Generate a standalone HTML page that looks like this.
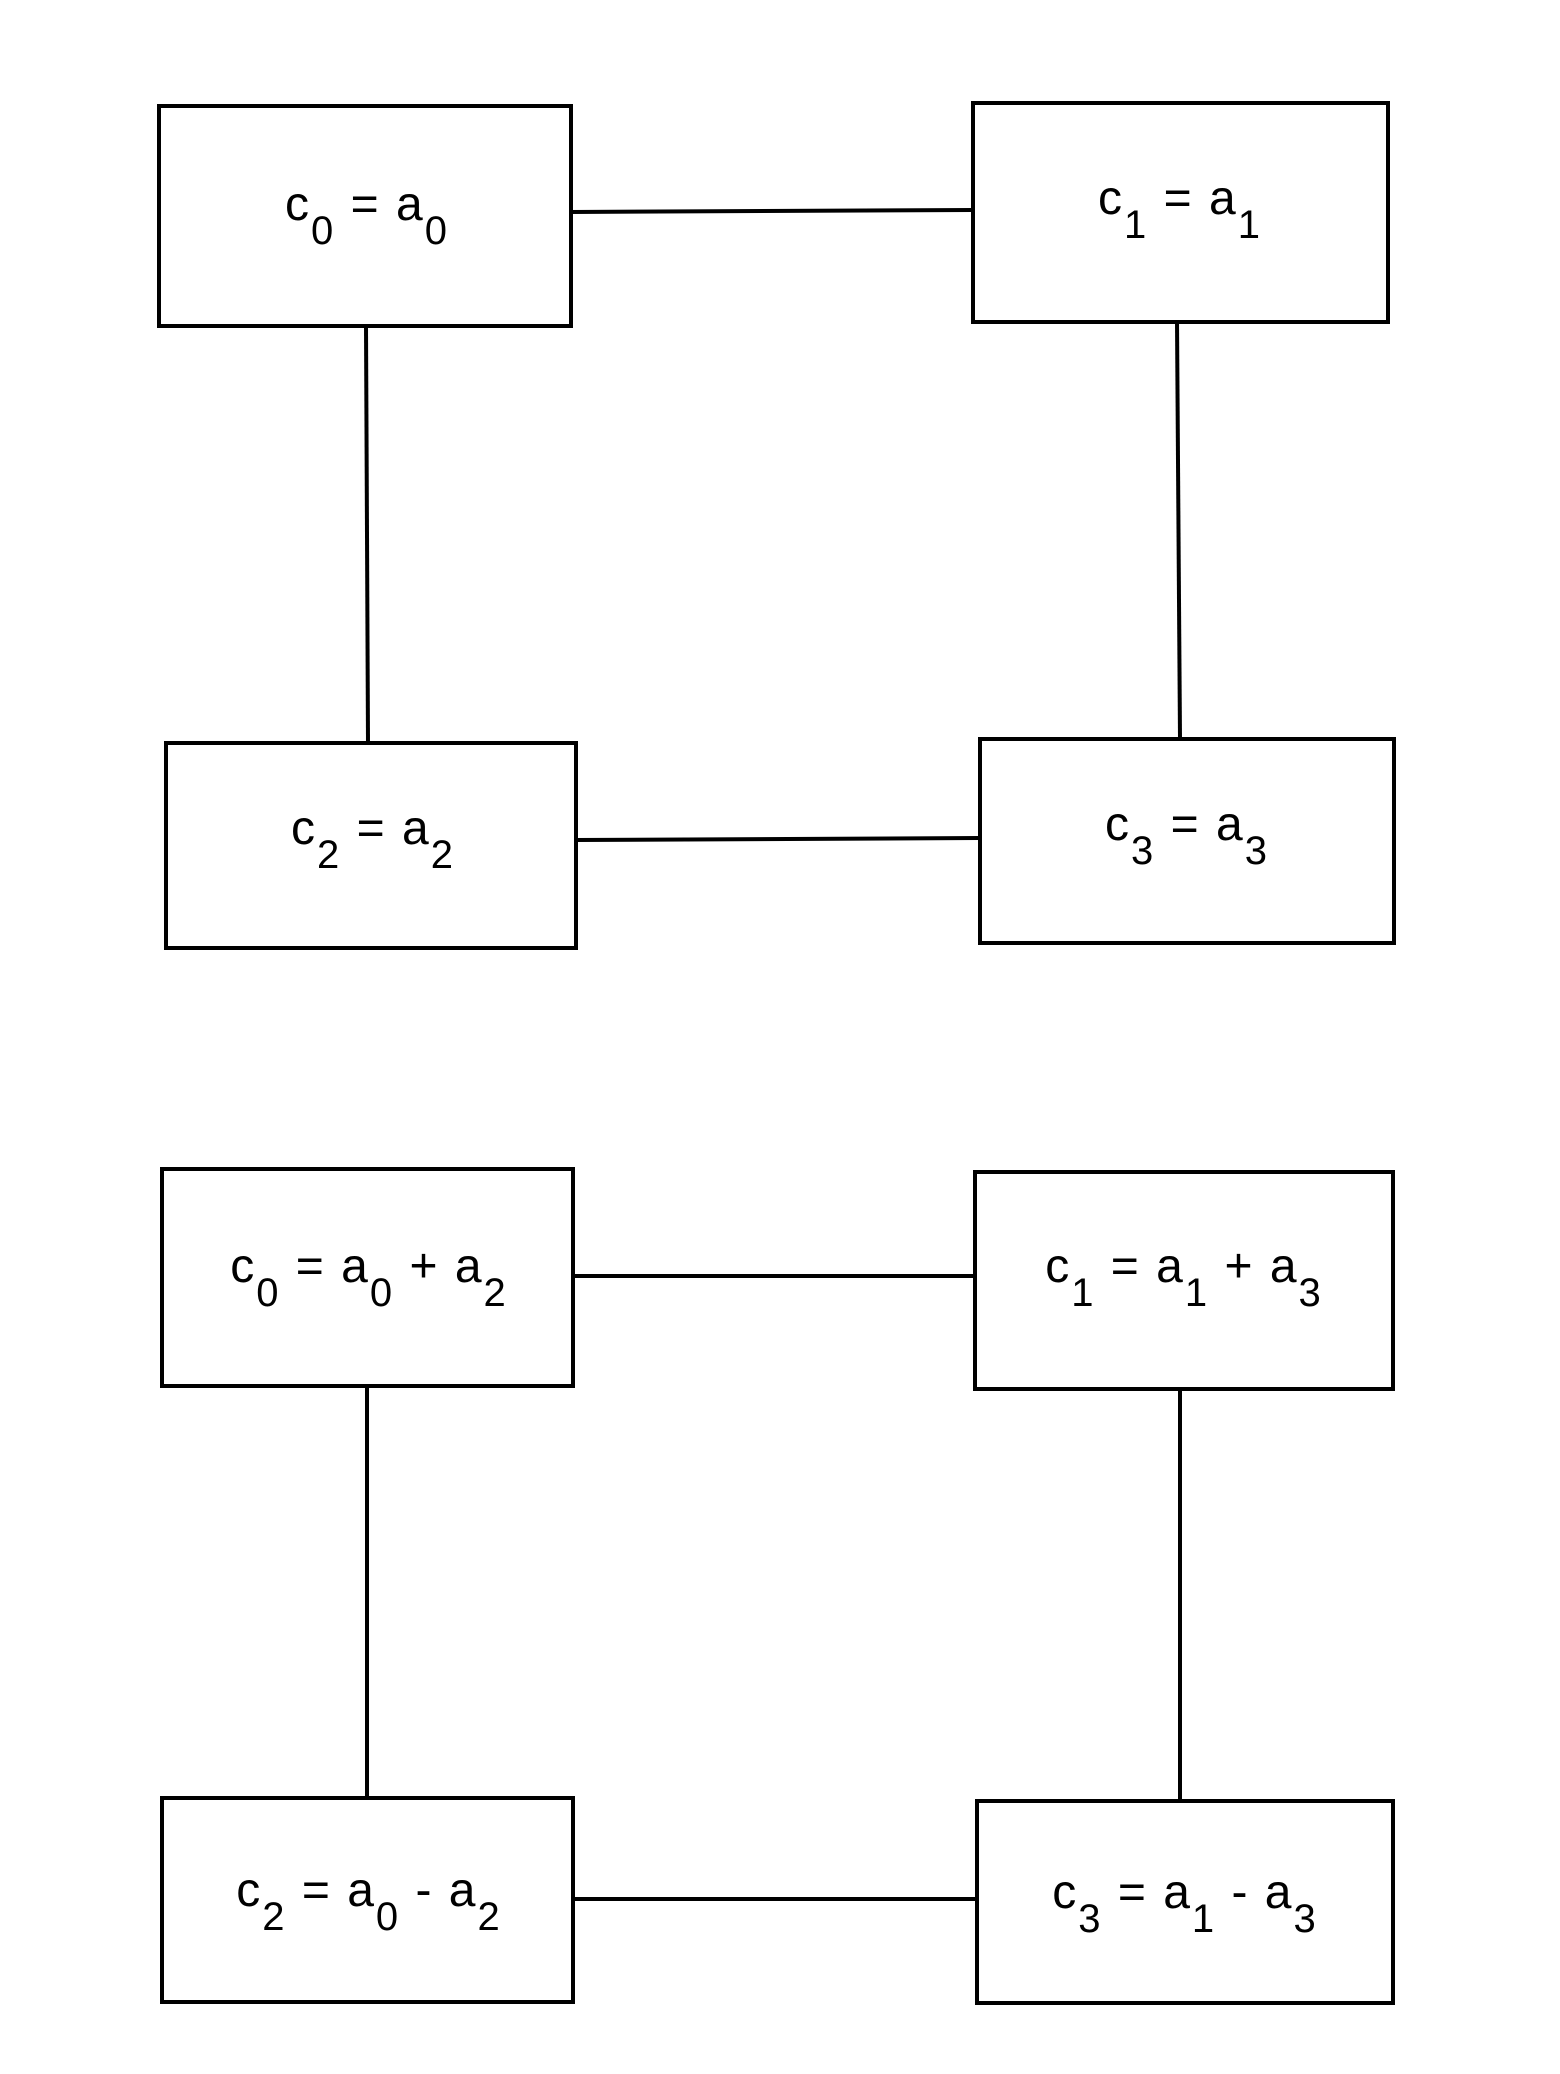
<!DOCTYPE html>
<html><head><meta charset="utf-8"><style>
html,body{margin:0;padding:0;background:#fff;}
svg{display:block;}
text{font-family:"Liberation Sans",sans-serif;font-size:48px;fill:#000;letter-spacing:2px;}
</style></head><body>
<svg width="1560" height="2074" viewBox="0 0 1560 2074" xmlns="http://www.w3.org/2000/svg">
<g fill="none" stroke="#000" stroke-width="4">
<rect x="159" y="106" width="412" height="220"/>
<rect x="973" y="103" width="415" height="219"/>
<rect x="166" y="743" width="410" height="205"/>
<rect x="980" y="739" width="414" height="204"/>
<rect x="162" y="1169" width="411" height="217"/>
<rect x="975" y="1172" width="418" height="217"/>
<rect x="162" y="1798" width="411" height="204"/>
<rect x="977" y="1801" width="416" height="202"/>
<line x1="571" y1="212" x2="973" y2="210"/>
<line x1="366" y1="326" x2="368" y2="743"/>
<line x1="1177" y1="322" x2="1180" y2="739"/>
<line x1="576" y1="840" x2="980" y2="838"/>
<line x1="573" y1="1276" x2="975" y2="1276"/>
<line x1="367" y1="1386" x2="367" y2="1798"/>
<line x1="1180" y1="1389" x2="1180" y2="1801"/>
<line x1="573" y1="1899" x2="977" y2="1899"/>
</g>
<g text-anchor="middle">
<text x="367" y="220">c<tspan font-size="40" dy="24">0</tspan><tspan dy="-24"> = a</tspan><tspan font-size="40" dy="24">0</tspan></text>
<text x="1180" y="214">c<tspan font-size="40" dy="24">1</tspan><tspan dy="-24"> = a</tspan><tspan font-size="40" dy="24">1</tspan></text>
<text x="373" y="844">c<tspan font-size="40" dy="24">2</tspan><tspan dy="-24"> = a</tspan><tspan font-size="40" dy="24">2</tspan></text>
<text x="1187" y="840">c<tspan font-size="40" dy="24">3</tspan><tspan dy="-24"> = a</tspan><tspan font-size="40" dy="24">3</tspan></text>
<text x="369" y="1282">c<tspan font-size="40" dy="24">0</tspan><tspan dy="-24"> = a</tspan><tspan font-size="40" dy="24">0</tspan><tspan dy="-24"> + a</tspan><tspan font-size="40" dy="24">2</tspan></text>
<text x="1184" y="1282">c<tspan font-size="40" dy="24">1</tspan><tspan dy="-24"> = a</tspan><tspan font-size="40" dy="24">1</tspan><tspan dy="-24"> + a</tspan><tspan font-size="40" dy="24">3</tspan></text>
<text x="369" y="1906">c<tspan font-size="40" dy="24">2</tspan><tspan dy="-24"> = a</tspan><tspan font-size="40" dy="24">0</tspan><tspan dy="-24"> - a</tspan><tspan font-size="40" dy="24">2</tspan></text>
<text x="1185" y="1908">c<tspan font-size="40" dy="24">3</tspan><tspan dy="-24"> = a</tspan><tspan font-size="40" dy="24">1</tspan><tspan dy="-24"> - a</tspan><tspan font-size="40" dy="24">3</tspan></text>
</g>
</svg>
</body></html>
